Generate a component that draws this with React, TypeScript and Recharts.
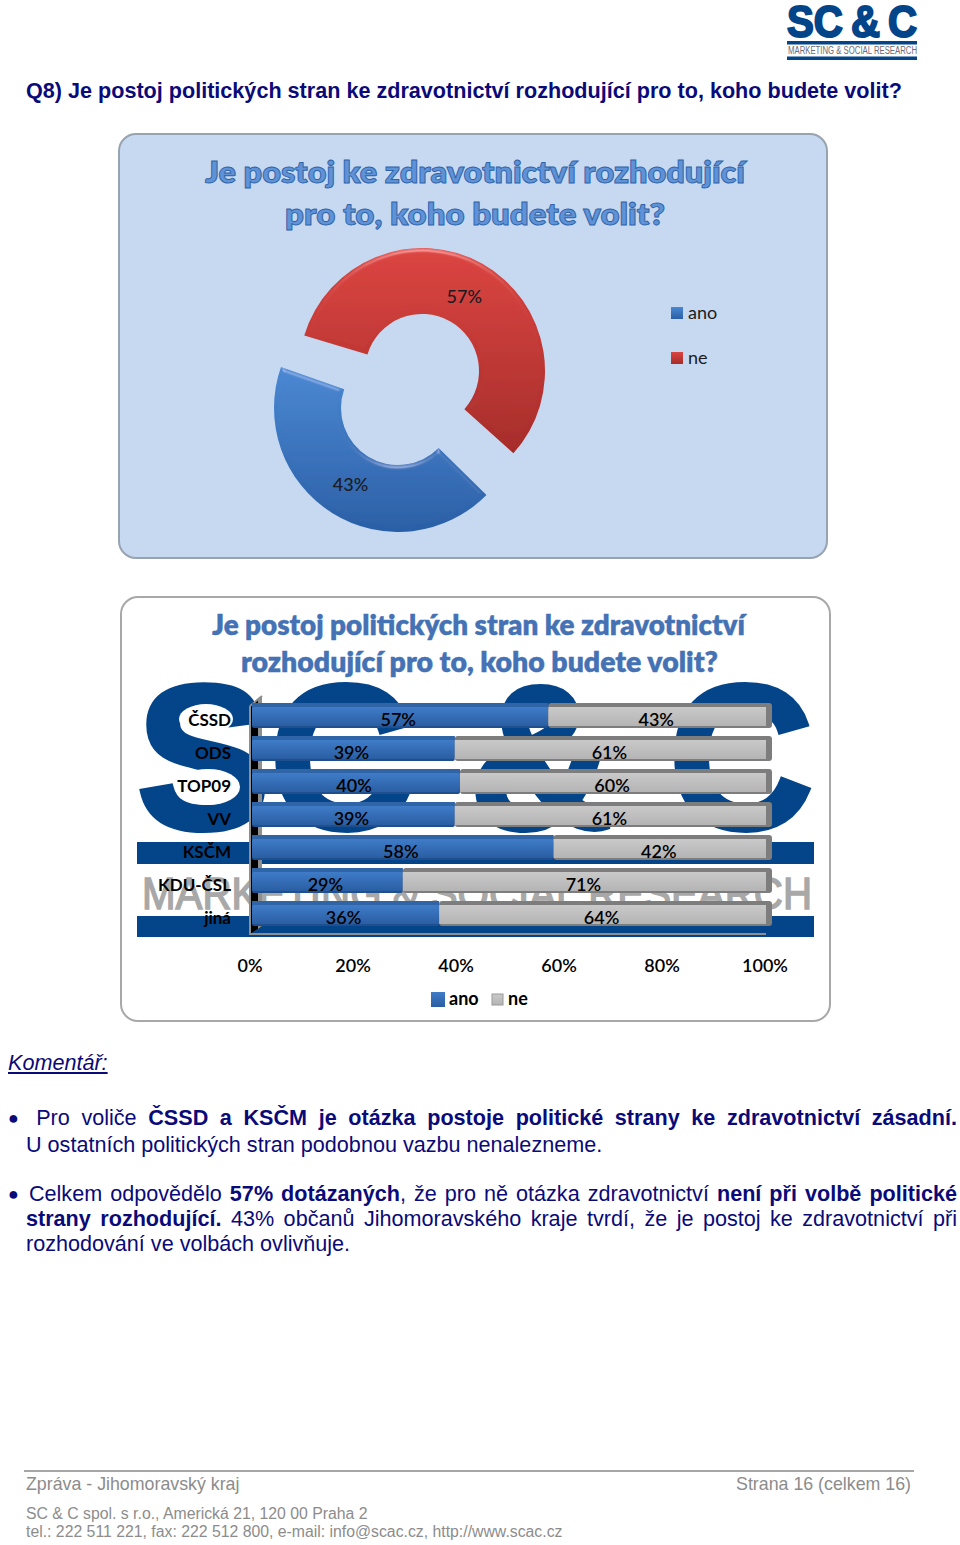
import React from 'react';
import { PieChart, Pie, Cell, Legend, BarChart, Bar, XAxis, YAxis, LabelList } from 'recharts';

const pieCategories = ['ano', 'ne'];
const pieValues = [43, 57];

const parties = ['ČSSD', 'ODS', 'TOP09', 'VV', 'KSČM', 'KDU-ČSL', 'jiná'];
const anoValues = [57, 39, 40, 39, 58, 29, 36];
const neValues = [43, 61, 60, 61, 42, 71, 64];
const xTicks = [0, 20, 40, 60, 80, 100];

const pieData = pieCategories.map((name, i) => ({ name, value: pieValues[i] }));
const barData = parties.map((party, i) => ({ party, ano: anoValues[i], ne: neValues[i] }));

const CHART_FONT = 'Lato, sans-serif';
const TEXT_FONT = '"Liberation Sans", Arial, sans-serif';
const NAVY = '#0a0a78';
const LOGO_BLUE = '#04458a';
const GREY_TEXT = '#8c8c8c';

// svg text squeezed to the exact width it has in the scan
function FitText({ x, y, width, size, children, ...rest }: any) {
  return (
    <text x={x} y={y} fontSize={size} textLength={width} lengthAdjust="spacingAndGlyphs" {...rest}>
      {children}
    </text>
  );
}

function Logo() {
  return (
    <svg width={960} height={70} style={{ position: 'absolute', left: 0, top: 0 }}>
      <FitText x={787} y={37} width={130} size={44} fontFamily={TEXT_FONT} fontWeight={700} fill={LOGO_BLUE} stroke={LOGO_BLUE} strokeWidth={2}>
        {'SC\u2009&\u2009C'}
      </FitText>
      <rect x={787} y={41} width={130} height={3.5} fill={LOGO_BLUE} />
      <FitText x={788} y={54} width={129} size={10} fontFamily={TEXT_FONT} fill="#6b6b75">
        MARKETING &amp; SOCIAL RESEARCH
      </FitText>
      <rect x={787} y={56.5} width={130} height={3.5} fill={LOGO_BLUE} />
    </svg>
  );
}

function Panel({ left, top, width, height, background, border }: any) {
  return (
    <div style={{
      position: 'absolute',
      left,
      top,
      width,
      height,
      boxSizing: 'border-box',
      background,
      border: `2px solid ${border}`,
      borderRadius: 18,
    }} />
  );
}

function PieLabel({ cx, cy, midAngle, index, shownIndex, r }: any) {
  if (index !== shownIndex) return null;
  const angle = (midAngle * Math.PI) / 180;
  return (
    <text
      x={cx + r * Math.cos(angle)}
      y={cy - r * Math.sin(angle)}
      textAnchor="middle"
      dominantBaseline="central"
      fontFamily={CHART_FONT}
      fontSize={18}
      fontWeight={500}
      fill="#1b1b22"
    >
      {pieValues[index]}%
    </text>
  );
}

function PieLegend() {
  const swatches = ['url(#pieAno)', 'url(#pieNe)'];
  return (
    <svg width={70} height={70}>
      {pieCategories.map((name, i) => (
        <g key={name} transform={`translate(0, ${i * 45})`}>
          <rect x={0} y={7} width={12} height={12} fill={swatches[i]} />
          <text x={17} y={19} fontFamily={CHART_FONT} fontSize={18} fill="#1b1b22">{name}</text>
        </g>
      ))}
    </svg>
  );
}

function Donut() {
  return (
    <div style={{ position: 'absolute', left: 119, top: 134 }}>
      <PieChart width={708} height={424}>
        <defs>
          <linearGradient id="pieAno" x1="0" y1="0" x2="0" y2="1">
            <stop offset="0%" stopColor="#4a88d2" />
            <stop offset="100%" stopColor="#2a5fa6" />
          </linearGradient>
          <linearGradient id="pieNe" x1="0" y1="0" x2="0" y2="1">
            <stop offset="0%" stopColor="#dc4440" />
            <stop offset="100%" stopColor="#a62c2a" />
          </linearGradient>
          <filter id="bevel" x="-5%" y="-5%" width="110%" height="110%">
            <feGaussianBlur in="SourceAlpha" stdDeviation="2" result="blur" />
            <feSpecularLighting in="blur" surfaceScale="3" specularConstant="0.5" specularExponent="30" lightingColor="#ffffff" result="spec">
              <feDistantLight azimuth="270" elevation="28" />
            </feSpecularLighting>
            <feComposite in="spec" in2="SourceAlpha" operator="in" result="specIn" />
            <feComposite in="SourceGraphic" in2="specIn" operator="arithmetic" k1="0" k2="1" k3="0.45" k4="0" />
          </filter>
        </defs>
        {/* same data twice so each exploded slice keeps its own centre */}
        <Pie
          data={pieData}
          dataKey="value"
          cx={274}
          cy={269}
          innerRadius={57}
          outerRadius={124}
          startAngle={-44.5}
          endAngle={-404.5}
          stroke="none"
          labelLine={false}
          label={(p: any) => <PieLabel {...p} shownIndex={0} r={90} />}
          isAnimationActive={false}
        >
          <Cell fill="url(#pieAno)" filter="url(#bevel)" />
          <Cell fill="none" />
        </Pie>
        <Pie
          data={pieData}
          dataKey="value"
          cx={298}
          cy={232}
          innerRadius={57}
          outerRadius={123}
          startAngle={-42}
          endAngle={-402}
          stroke="none"
          labelLine={false}
          label={(p: any) => <PieLabel {...p} shownIndex={1} r={86} />}
          isAnimationActive={false}
        >
          <Cell fill="none" />
          <Cell fill="url(#pieNe)" filter="url(#bevel)" />
        </Pie>
        <Legend content={<PieLegend />} wrapperStyle={{ left: 552, top: 166, width: 70, bottom: 'auto' }} />
      </PieChart>
    </div>
  );
}

// the blown-up company logo that sits behind the bars
function Watermark() {
  return (
    <svg width={960} height={1040} style={{ position: 'absolute', left: 0, top: 0 }}>
      <FitText x={137} y={828} width={676} size={205} fontFamily={TEXT_FONT} fontWeight={700} fill={LOGO_BLUE} stroke={LOGO_BLUE} strokeWidth={6}>
        SC &amp; C
      </FitText>
      <ellipse cx={206} cy={719} rx={27} ry={15} fill="#fff" />
      <ellipse cx={208} cy={787} rx={32} ry={18} fill="#fff" />
      <rect x={137} y={842} width={677} height={22} fill={LOGO_BLUE} />
      <rect x={137} y={916} width={677} height={21} fill={LOGO_BLUE} />
      <rect x={137} y={864} width={677} height={52} fill="#fff" />
      <FitText x={142} y={909} width={670} size={44} fontFamily={TEXT_FONT} fill="#a8a8a8" stroke="#a8a8a8" strokeWidth={1.5}>
        MARKETING &amp; SOCIAL RESEARCH
      </FitText>
      {/* side wall and floor of the 3D plot */}
      <path d="M250 706 L262 696 L262 926 L250 934 Z" fill="#000" />
      <path d="M258 700 L262 696 L262 926 L258 929 Z" fill="#8f8f8f" />
      <path d="M250 706 L262 696" stroke="#8f8f8f" strokeWidth={2} />
      <path d="M250 706 L250 934 L766 934" stroke="#8f8f8f" strokeWidth={2} fill="none" />
    </svg>
  );
}

function AnoBar({ x, y, width, height }: any) {
  return (
    <g>
      <rect x={x} y={y} width={width} height={height} rx={2} fill="#1f4f8e" />
      <rect x={x} y={y} width={width} height={5} fill="#2f64a6" />
      <rect x={x} y={y + 4} width={width} height={height - 6} rx={2} fill="url(#barAno)" />
    </g>
  );
}

function NeBar({ x, y, width, height }: any) {
  return (
    <g>
      <rect x={x} y={y} width={width} height={height} rx={3} fill="#7d7d7d" />
      <rect x={x} y={y + 4} width={width - 6} height={height - 6} fill="url(#barNe)" />
    </g>
  );
}

function BarValue({ x, y, width, height, value, fill, shift }: any) {
  return (
    <text
      x={x + width / 2 + shift}
      y={y + height / 2 + 3}
      textAnchor="middle"
      dominantBaseline="central"
      fontFamily={CHART_FONT}
      fontSize={18}
      fontWeight={600}
      fill={fill}
    >
      {value}%
    </text>
  );
}

function PartyTick({ x, y, payload }: any) {
  return (
    <text x={x - 13} y={y + 10} textAnchor="end" fontFamily={CHART_FONT} fontSize={17} fontWeight={700} fill="#000">
      {payload.value}
    </text>
  );
}

// the scan's axis labels run slightly tighter than its bars
function PercentTick({ x, y, payload }: any) {
  return (
    <text x={x - 2 - payload.value * 0.05} y={y + 33.5} textAnchor="middle" fontFamily={CHART_FONT} fontSize={18} fontWeight={600} fill="#000">
      {payload.value}%
    </text>
  );
}

function BarLegend() {
  return (
    <svg width={110} height={24}>
      <rect x={0} y={2} width={14} height={15} fill="url(#barAno)" />
      <text x={18} y={15} fontFamily={CHART_FONT} fontSize={18} fontWeight={700}>{pieCategories[0]}</text>
      <rect x={61} y={4} width={11} height={11} fill="url(#barNe)" stroke="#999" />
      <text x={77} y={15} fontFamily={CHART_FONT} fontSize={18} fontWeight={700}>{pieCategories[1]}</text>
    </svg>
  );
}

function StackedBars() {
  return (
    <div style={{ position: 'absolute', left: 121, top: 597 }}>
      <BarChart
        layout="vertical"
        width={709}
        height={424}
        data={barData}
        barSize={25}
        margin={{ top: 102, right: 58, bottom: 22.5, left: 0 }}
      >
        <defs>
          <linearGradient id="barAno" x1="0" y1="0" x2="0" y2="1">
            <stop offset="0%" stopColor="#3f7cc8" />
            <stop offset="100%" stopColor="#2a5ea2" />
          </linearGradient>
          <linearGradient id="barNe" x1="0" y1="0" x2="0" y2="1">
            <stop offset="0%" stopColor="#c9c9c9" />
            <stop offset="100%" stopColor="#b4b4b4" />
          </linearGradient>
        </defs>
        <XAxis
          type="number"
          domain={[0, 100]}
          ticks={xTicks}
          interval={0}
          height={40.5}
          axisLine={false}
          tickLine={false}
          tick={<PercentTick />}
        />
        <YAxis
          type="category"
          dataKey="party"
          width={131}
          interval={0}
          axisLine={false}
          tickLine={false}
          tick={<PartyTick />}
        />
        <Bar dataKey="ano" stackId="a" shape={<AnoBar />} isAnimationActive={false}>
          <LabelList dataKey="ano" content={<BarValue fill="#fff" shift={-2} />} />
        </Bar>
        <Bar dataKey="ne" stackId="a" shape={<NeBar />} isAnimationActive={false}>
          <LabelList dataKey="ne" content={<BarValue fill="#1a1a1a" shift={-4} />} />
        </Bar>
        <Legend content={<BarLegend />} wrapperStyle={{ left: 310, top: 393, width: 110, bottom: 'auto' }} />
      </BarChart>
    </div>
  );
}

function Line({ left = 26, right = 957, center, justify = true, children }: any) {
  return (
    <div style={{
      position: 'absolute',
      left,
      top: center - 14,
      width: right - left,
      height: 28,
      lineHeight: '28px',
      fontFamily: TEXT_FONT,
      fontSize: 21.6,
      color: NAVY,
      whiteSpace: justify ? 'normal' : 'nowrap',
      textAlign: 'justify',
      textAlignLast: justify ? 'justify' : 'left',
    }}>
      {children}
    </div>
  );
}

const bullet = <span style={{ fontSize: 18, verticalAlign: 1 }}>●</span>;

export default function App() {
  return (
    <div style={{ position: 'absolute', left: 0, top: 0, width: 960, height: 1545, background: '#fff', overflow: 'hidden' }}>
      <Logo />
      <div style={{ position: 'absolute', left: 26, top: 78, fontFamily: TEXT_FONT, fontSize: 21.6, fontWeight: 700, color: NAVY, whiteSpace: 'nowrap' }}>
        Q8) Je postoj politických stran ke zdravotnictví rozhodující pro to, koho budete volit?
      </div>

      <Panel left={118} top={133} width={710} height={426} background="#c6d9f1" border="#98a3b0" />
      <svg width={960} height={260} style={{ position: 'absolute', left: 0, top: 0 }}>
        <g fontFamily={CHART_FONT} fontWeight={800} fill="#5f92d6" stroke="#2e62a8" strokeWidth={0.9}>
          <FitText x={205} y={183} width={540} size={31}>Je postoj ke zdravotnictví rozhodující</FitText>
          <FitText x={285} y={225} width={380} size={31}>pro to, koho budete volit?</FitText>
        </g>
      </svg>
      <Donut />

      <Panel left={120} top={596} width={711} height={426} background="#fff" border="#a8a8a8" />
      <Watermark />
      <svg width={960} height={700} style={{ position: 'absolute', left: 0, top: 0 }}>
        <g fontFamily={CHART_FONT} fontWeight={800} fill="#4472b4" stroke="#4472b4" strokeWidth={0.4}>
          <FitText x={212} y={635} width={533} size={29}>Je postoj politických stran ke zdravotnictví</FitText>
          <FitText x={241} y={672} width={477} size={29}>rozhodující pro to, koho budete volit?</FitText>
        </g>
      </svg>
      <StackedBars />

      <div style={{ position: 'absolute', left: 8, top: 1050, fontFamily: TEXT_FONT, fontSize: 21.6, fontStyle: 'italic', textDecoration: 'underline', color: NAVY }}>
        Komentář:
      </div>

      <Line left={8} center={1118}>
        {bullet} Pro voliče <b>ČSSD a KSČM je otázka postoje politické strany ke zdravotnictví zásadní.</b>
      </Line>
      <Line center={1145} justify={false}>U ostatních politických stran podobnou vazbu nenalezneme.</Line>
      <Line left={8} center={1194}>
        {bullet} Celkem odpovědělo <b>57% dotázaných</b>, že pro ně otázka zdravotnictví <b>není při volbě politické</b>
      </Line>
      <Line center={1219}>
        <b>strany rozhodující.</b> 43% občanů Jihomoravského kraje tvrdí, že je postoj ke zdravotnictví při
      </Line>
      <Line center={1244} justify={false}>rozhodování ve volbách ovlivňuje.</Line>

      <div style={{ position: 'absolute', left: 24, top: 1470, width: 890, height: 2, background: '#a6a6a6' }} />
      <div style={{ position: 'absolute', left: 26, top: 1474, fontFamily: TEXT_FONT, fontSize: 17.8, color: GREY_TEXT }}>Zpráva - Jihomoravský kraj</div>
      <div style={{ position: 'absolute', right: 49, top: 1474, fontFamily: TEXT_FONT, fontSize: 17.8, color: GREY_TEXT }}>Strana 16 (celkem 16)</div>
      <div style={{ position: 'absolute', left: 26, top: 1505, fontFamily: TEXT_FONT, fontSize: 15.8, color: GREY_TEXT, whiteSpace: 'nowrap' }}>SC &amp; C spol. s r.o., Americká 21, 120 00 Praha 2</div>
      <div style={{ position: 'absolute', left: 26, top: 1523, fontFamily: TEXT_FONT, fontSize: 15.8, color: GREY_TEXT, whiteSpace: 'nowrap' }}>tel.: 222 511 221, fax: 222 512 800, e-mail: info@scac.cz, http://www.scac.cz</div>
    </div>
  );
}
